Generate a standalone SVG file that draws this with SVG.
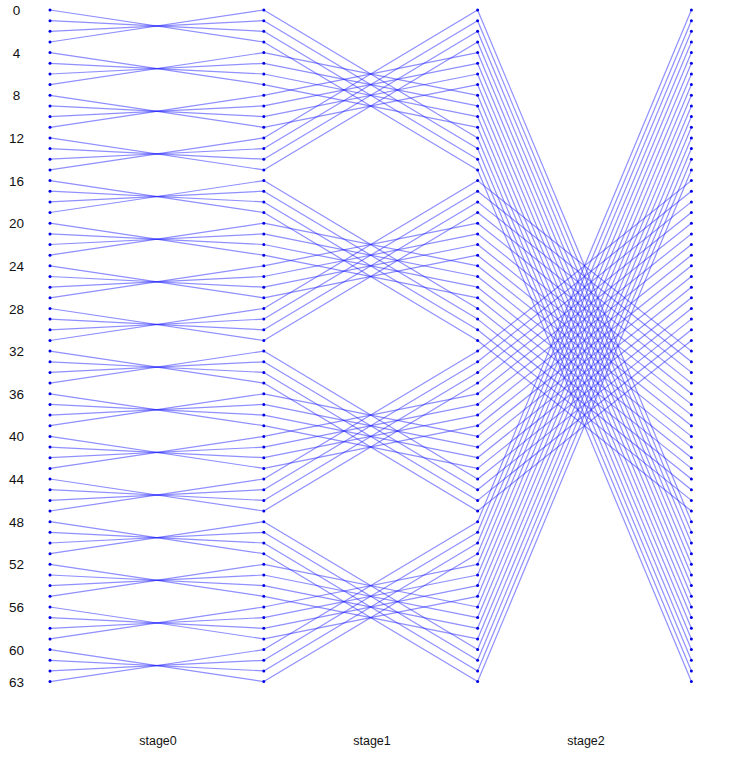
<svg xmlns="http://www.w3.org/2000/svg" width="732" height="758" viewBox="0 0 732 758">
<style>
.bg{fill:#ffffff}
.cn line{stroke:#2020ff;stroke-opacity:0.5;stroke-width:1.2;fill:none}
.nd circle{fill:#0000e6}
.lab{font-family:"Liberation Sans",Arial,sans-serif;font-size:13.5px;fill:#111111;text-anchor:middle}
.stg{font-family:"Liberation Sans",Arial,sans-serif;font-size:12.5px;fill:#111111;text-anchor:middle}
</style>
<rect class="bg" x="0" y="0" width="732" height="758"/>
<g id="connectors" class="cn">
<g id="stage0-links">
<line x1="50" y1="10" x2="263.8" y2="42"/><line x1="50" y1="20.7" x2="263.8" y2="31.3"/><line x1="50" y1="31.3" x2="263.8" y2="20.7"/><line x1="50" y1="42" x2="263.8" y2="10"/>
<line x1="50" y1="52.6" x2="263.8" y2="84.6"/><line x1="50" y1="63.3" x2="263.8" y2="74"/><line x1="50" y1="74" x2="263.8" y2="63.3"/><line x1="50" y1="84.6" x2="263.8" y2="52.6"/>
<line x1="50" y1="95.3" x2="263.8" y2="127.3"/><line x1="50" y1="105.9" x2="263.8" y2="116.6"/><line x1="50" y1="116.6" x2="263.8" y2="105.9"/><line x1="50" y1="127.3" x2="263.8" y2="95.3"/>
<line x1="50" y1="137.9" x2="263.8" y2="169.9"/><line x1="50" y1="148.6" x2="263.8" y2="159.2"/><line x1="50" y1="159.2" x2="263.8" y2="148.6"/><line x1="50" y1="169.9" x2="263.8" y2="137.9"/>
<line x1="50" y1="180.6" x2="263.8" y2="212.5"/><line x1="50" y1="191.2" x2="263.8" y2="201.9"/><line x1="50" y1="201.9" x2="263.8" y2="191.2"/><line x1="50" y1="212.5" x2="263.8" y2="180.6"/>
<line x1="50" y1="223.2" x2="263.8" y2="255.2"/><line x1="50" y1="233.9" x2="263.8" y2="244.5"/><line x1="50" y1="244.5" x2="263.8" y2="233.9"/><line x1="50" y1="255.2" x2="263.8" y2="223.2"/>
<line x1="50" y1="265.8" x2="263.8" y2="297.8"/><line x1="50" y1="276.5" x2="263.8" y2="287.2"/><line x1="50" y1="287.2" x2="263.8" y2="276.5"/><line x1="50" y1="297.8" x2="263.8" y2="265.8"/>
<line x1="50" y1="308.5" x2="263.8" y2="340.5"/><line x1="50" y1="319.1" x2="263.8" y2="329.8"/><line x1="50" y1="329.8" x2="263.8" y2="319.1"/><line x1="50" y1="340.5" x2="263.8" y2="308.5"/>
<line x1="50" y1="351.1" x2="263.8" y2="383.1"/><line x1="50" y1="361.8" x2="263.8" y2="372.4"/><line x1="50" y1="372.4" x2="263.8" y2="361.8"/><line x1="50" y1="383.1" x2="263.8" y2="351.1"/>
<line x1="50" y1="393.8" x2="263.8" y2="425.7"/><line x1="50" y1="404.4" x2="263.8" y2="415.1"/><line x1="50" y1="415.1" x2="263.8" y2="404.4"/><line x1="50" y1="425.7" x2="263.8" y2="393.8"/>
<line x1="50" y1="436.4" x2="263.8" y2="468.4"/><line x1="50" y1="447.1" x2="263.8" y2="457.7"/><line x1="50" y1="457.7" x2="263.8" y2="447.1"/><line x1="50" y1="468.4" x2="263.8" y2="436.4"/>
<line x1="50" y1="479" x2="263.8" y2="511"/><line x1="50" y1="489.7" x2="263.8" y2="500.4"/><line x1="50" y1="500.4" x2="263.8" y2="489.7"/><line x1="50" y1="511" x2="263.8" y2="479"/>
<line x1="50" y1="521.7" x2="263.8" y2="553.7"/><line x1="50" y1="532.3" x2="263.8" y2="543"/><line x1="50" y1="543" x2="263.8" y2="532.3"/><line x1="50" y1="553.7" x2="263.8" y2="521.7"/>
<line x1="50" y1="564.3" x2="263.8" y2="596.3"/><line x1="50" y1="575" x2="263.8" y2="585.6"/><line x1="50" y1="585.6" x2="263.8" y2="575"/><line x1="50" y1="596.3" x2="263.8" y2="564.3"/>
<line x1="50" y1="607" x2="263.8" y2="638.9"/><line x1="50" y1="617.6" x2="263.8" y2="628.3"/><line x1="50" y1="628.3" x2="263.8" y2="617.6"/><line x1="50" y1="638.9" x2="263.8" y2="607"/>
<line x1="50" y1="649.6" x2="263.8" y2="681.6"/><line x1="50" y1="660.3" x2="263.8" y2="670.9"/><line x1="50" y1="670.9" x2="263.8" y2="660.3"/><line x1="50" y1="681.6" x2="263.8" y2="649.6"/>
</g>
<g id="stage1-links">
<line x1="263.8" y1="10" x2="477.6" y2="137.9"/><line x1="263.8" y1="20.7" x2="477.6" y2="148.6"/><line x1="263.8" y1="31.3" x2="477.6" y2="159.2"/><line x1="263.8" y1="42" x2="477.6" y2="169.9"/>
<line x1="263.8" y1="52.6" x2="477.6" y2="95.3"/><line x1="263.8" y1="63.3" x2="477.6" y2="105.9"/><line x1="263.8" y1="74" x2="477.6" y2="116.6"/><line x1="263.8" y1="84.6" x2="477.6" y2="127.3"/>
<line x1="263.8" y1="95.3" x2="477.6" y2="52.6"/><line x1="263.8" y1="105.9" x2="477.6" y2="63.3"/><line x1="263.8" y1="116.6" x2="477.6" y2="74"/><line x1="263.8" y1="127.3" x2="477.6" y2="84.6"/>
<line x1="263.8" y1="137.9" x2="477.6" y2="10"/><line x1="263.8" y1="148.6" x2="477.6" y2="20.7"/><line x1="263.8" y1="159.2" x2="477.6" y2="31.3"/><line x1="263.8" y1="169.9" x2="477.6" y2="42"/>
<line x1="263.8" y1="180.6" x2="477.6" y2="308.5"/><line x1="263.8" y1="191.2" x2="477.6" y2="319.1"/><line x1="263.8" y1="201.9" x2="477.6" y2="329.8"/><line x1="263.8" y1="212.5" x2="477.6" y2="340.5"/>
<line x1="263.8" y1="223.2" x2="477.6" y2="265.8"/><line x1="263.8" y1="233.9" x2="477.6" y2="276.5"/><line x1="263.8" y1="244.5" x2="477.6" y2="287.2"/><line x1="263.8" y1="255.2" x2="477.6" y2="297.8"/>
<line x1="263.8" y1="265.8" x2="477.6" y2="223.2"/><line x1="263.8" y1="276.5" x2="477.6" y2="233.9"/><line x1="263.8" y1="287.2" x2="477.6" y2="244.5"/><line x1="263.8" y1="297.8" x2="477.6" y2="255.2"/>
<line x1="263.8" y1="308.5" x2="477.6" y2="180.6"/><line x1="263.8" y1="319.1" x2="477.6" y2="191.2"/><line x1="263.8" y1="329.8" x2="477.6" y2="201.9"/><line x1="263.8" y1="340.5" x2="477.6" y2="212.5"/>
<line x1="263.8" y1="351.1" x2="477.6" y2="479"/><line x1="263.8" y1="361.8" x2="477.6" y2="489.7"/><line x1="263.8" y1="372.4" x2="477.6" y2="500.4"/><line x1="263.8" y1="383.1" x2="477.6" y2="511"/>
<line x1="263.8" y1="393.8" x2="477.6" y2="436.4"/><line x1="263.8" y1="404.4" x2="477.6" y2="447.1"/><line x1="263.8" y1="415.1" x2="477.6" y2="457.7"/><line x1="263.8" y1="425.7" x2="477.6" y2="468.4"/>
<line x1="263.8" y1="436.4" x2="477.6" y2="393.8"/><line x1="263.8" y1="447.1" x2="477.6" y2="404.4"/><line x1="263.8" y1="457.7" x2="477.6" y2="415.1"/><line x1="263.8" y1="468.4" x2="477.6" y2="425.7"/>
<line x1="263.8" y1="479" x2="477.6" y2="351.1"/><line x1="263.8" y1="489.7" x2="477.6" y2="361.8"/><line x1="263.8" y1="500.4" x2="477.6" y2="372.4"/><line x1="263.8" y1="511" x2="477.6" y2="383.1"/>
<line x1="263.8" y1="521.7" x2="477.6" y2="649.6"/><line x1="263.8" y1="532.3" x2="477.6" y2="660.3"/><line x1="263.8" y1="543" x2="477.6" y2="670.9"/><line x1="263.8" y1="553.7" x2="477.6" y2="681.6"/>
<line x1="263.8" y1="564.3" x2="477.6" y2="607"/><line x1="263.8" y1="575" x2="477.6" y2="617.6"/><line x1="263.8" y1="585.6" x2="477.6" y2="628.3"/><line x1="263.8" y1="596.3" x2="477.6" y2="638.9"/>
<line x1="263.8" y1="607" x2="477.6" y2="564.3"/><line x1="263.8" y1="617.6" x2="477.6" y2="575"/><line x1="263.8" y1="628.3" x2="477.6" y2="585.6"/><line x1="263.8" y1="638.9" x2="477.6" y2="596.3"/>
<line x1="263.8" y1="649.6" x2="477.6" y2="521.7"/><line x1="263.8" y1="660.3" x2="477.6" y2="532.3"/><line x1="263.8" y1="670.9" x2="477.6" y2="543"/><line x1="263.8" y1="681.6" x2="477.6" y2="553.7"/>
</g>
<g id="stage2-links">
<line x1="477.6" y1="10" x2="691.4" y2="521.7"/><line x1="477.6" y1="20.7" x2="691.4" y2="532.3"/><line x1="477.6" y1="31.3" x2="691.4" y2="543"/><line x1="477.6" y1="42" x2="691.4" y2="553.7"/>
<line x1="477.6" y1="52.6" x2="691.4" y2="564.3"/><line x1="477.6" y1="63.3" x2="691.4" y2="575"/><line x1="477.6" y1="74" x2="691.4" y2="585.6"/><line x1="477.6" y1="84.6" x2="691.4" y2="596.3"/>
<line x1="477.6" y1="95.3" x2="691.4" y2="607"/><line x1="477.6" y1="105.9" x2="691.4" y2="617.6"/><line x1="477.6" y1="116.6" x2="691.4" y2="628.3"/><line x1="477.6" y1="127.3" x2="691.4" y2="638.9"/>
<line x1="477.6" y1="137.9" x2="691.4" y2="649.6"/><line x1="477.6" y1="148.6" x2="691.4" y2="660.3"/><line x1="477.6" y1="159.2" x2="691.4" y2="670.9"/><line x1="477.6" y1="169.9" x2="691.4" y2="681.6"/>
<line x1="477.6" y1="180.6" x2="691.4" y2="351.1"/><line x1="477.6" y1="191.2" x2="691.4" y2="361.8"/><line x1="477.6" y1="201.9" x2="691.4" y2="372.4"/><line x1="477.6" y1="212.5" x2="691.4" y2="383.1"/>
<line x1="477.6" y1="223.2" x2="691.4" y2="393.8"/><line x1="477.6" y1="233.9" x2="691.4" y2="404.4"/><line x1="477.6" y1="244.5" x2="691.4" y2="415.1"/><line x1="477.6" y1="255.2" x2="691.4" y2="425.7"/>
<line x1="477.6" y1="265.8" x2="691.4" y2="436.4"/><line x1="477.6" y1="276.5" x2="691.4" y2="447.1"/><line x1="477.6" y1="287.2" x2="691.4" y2="457.7"/><line x1="477.6" y1="297.8" x2="691.4" y2="468.4"/>
<line x1="477.6" y1="308.5" x2="691.4" y2="479"/><line x1="477.6" y1="319.1" x2="691.4" y2="489.7"/><line x1="477.6" y1="329.8" x2="691.4" y2="500.4"/><line x1="477.6" y1="340.5" x2="691.4" y2="511"/>
<line x1="477.6" y1="351.1" x2="691.4" y2="180.6"/><line x1="477.6" y1="361.8" x2="691.4" y2="191.2"/><line x1="477.6" y1="372.4" x2="691.4" y2="201.9"/><line x1="477.6" y1="383.1" x2="691.4" y2="212.5"/>
<line x1="477.6" y1="393.8" x2="691.4" y2="223.2"/><line x1="477.6" y1="404.4" x2="691.4" y2="233.9"/><line x1="477.6" y1="415.1" x2="691.4" y2="244.5"/><line x1="477.6" y1="425.7" x2="691.4" y2="255.2"/>
<line x1="477.6" y1="436.4" x2="691.4" y2="265.8"/><line x1="477.6" y1="447.1" x2="691.4" y2="276.5"/><line x1="477.6" y1="457.7" x2="691.4" y2="287.2"/><line x1="477.6" y1="468.4" x2="691.4" y2="297.8"/>
<line x1="477.6" y1="479" x2="691.4" y2="308.5"/><line x1="477.6" y1="489.7" x2="691.4" y2="319.1"/><line x1="477.6" y1="500.4" x2="691.4" y2="329.8"/><line x1="477.6" y1="511" x2="691.4" y2="340.5"/>
<line x1="477.6" y1="521.7" x2="691.4" y2="10"/><line x1="477.6" y1="532.3" x2="691.4" y2="20.7"/><line x1="477.6" y1="543" x2="691.4" y2="31.3"/><line x1="477.6" y1="553.7" x2="691.4" y2="42"/>
<line x1="477.6" y1="564.3" x2="691.4" y2="52.6"/><line x1="477.6" y1="575" x2="691.4" y2="63.3"/><line x1="477.6" y1="585.6" x2="691.4" y2="74"/><line x1="477.6" y1="596.3" x2="691.4" y2="84.6"/>
<line x1="477.6" y1="607" x2="691.4" y2="95.3"/><line x1="477.6" y1="617.6" x2="691.4" y2="105.9"/><line x1="477.6" y1="628.3" x2="691.4" y2="116.6"/><line x1="477.6" y1="638.9" x2="691.4" y2="127.3"/>
<line x1="477.6" y1="649.6" x2="691.4" y2="137.9"/><line x1="477.6" y1="660.3" x2="691.4" y2="148.6"/><line x1="477.6" y1="670.9" x2="691.4" y2="159.2"/><line x1="477.6" y1="681.6" x2="691.4" y2="169.9"/>
</g>
</g>
<g id="nodes" class="nd">
<g id="col0">
<g id="n0-0"><circle cx="50" cy="10" r="1.5"/></g><g id="n0-1"><circle cx="50" cy="20.7" r="1.5"/></g><g id="n0-2"><circle cx="50" cy="31.3" r="1.5"/></g><g id="n0-3"><circle cx="50" cy="42" r="1.5"/></g>
<g id="n0-4"><circle cx="50" cy="52.6" r="1.5"/></g><g id="n0-5"><circle cx="50" cy="63.3" r="1.5"/></g><g id="n0-6"><circle cx="50" cy="74" r="1.5"/></g><g id="n0-7"><circle cx="50" cy="84.6" r="1.5"/></g>
<g id="n0-8"><circle cx="50" cy="95.3" r="1.5"/></g><g id="n0-9"><circle cx="50" cy="105.9" r="1.5"/></g><g id="n0-10"><circle cx="50" cy="116.6" r="1.5"/></g><g id="n0-11"><circle cx="50" cy="127.3" r="1.5"/></g>
<g id="n0-12"><circle cx="50" cy="137.9" r="1.5"/></g><g id="n0-13"><circle cx="50" cy="148.6" r="1.5"/></g><g id="n0-14"><circle cx="50" cy="159.2" r="1.5"/></g><g id="n0-15"><circle cx="50" cy="169.9" r="1.5"/></g>
<g id="n0-16"><circle cx="50" cy="180.6" r="1.5"/></g><g id="n0-17"><circle cx="50" cy="191.2" r="1.5"/></g><g id="n0-18"><circle cx="50" cy="201.9" r="1.5"/></g><g id="n0-19"><circle cx="50" cy="212.5" r="1.5"/></g>
<g id="n0-20"><circle cx="50" cy="223.2" r="1.5"/></g><g id="n0-21"><circle cx="50" cy="233.9" r="1.5"/></g><g id="n0-22"><circle cx="50" cy="244.5" r="1.5"/></g><g id="n0-23"><circle cx="50" cy="255.2" r="1.5"/></g>
<g id="n0-24"><circle cx="50" cy="265.8" r="1.5"/></g><g id="n0-25"><circle cx="50" cy="276.5" r="1.5"/></g><g id="n0-26"><circle cx="50" cy="287.2" r="1.5"/></g><g id="n0-27"><circle cx="50" cy="297.8" r="1.5"/></g>
<g id="n0-28"><circle cx="50" cy="308.5" r="1.5"/></g><g id="n0-29"><circle cx="50" cy="319.1" r="1.5"/></g><g id="n0-30"><circle cx="50" cy="329.8" r="1.5"/></g><g id="n0-31"><circle cx="50" cy="340.5" r="1.5"/></g>
<g id="n0-32"><circle cx="50" cy="351.1" r="1.5"/></g><g id="n0-33"><circle cx="50" cy="361.8" r="1.5"/></g><g id="n0-34"><circle cx="50" cy="372.4" r="1.5"/></g><g id="n0-35"><circle cx="50" cy="383.1" r="1.5"/></g>
<g id="n0-36"><circle cx="50" cy="393.8" r="1.5"/></g><g id="n0-37"><circle cx="50" cy="404.4" r="1.5"/></g><g id="n0-38"><circle cx="50" cy="415.1" r="1.5"/></g><g id="n0-39"><circle cx="50" cy="425.7" r="1.5"/></g>
<g id="n0-40"><circle cx="50" cy="436.4" r="1.5"/></g><g id="n0-41"><circle cx="50" cy="447.1" r="1.5"/></g><g id="n0-42"><circle cx="50" cy="457.7" r="1.5"/></g><g id="n0-43"><circle cx="50" cy="468.4" r="1.5"/></g>
<g id="n0-44"><circle cx="50" cy="479" r="1.5"/></g><g id="n0-45"><circle cx="50" cy="489.7" r="1.5"/></g><g id="n0-46"><circle cx="50" cy="500.4" r="1.5"/></g><g id="n0-47"><circle cx="50" cy="511" r="1.5"/></g>
<g id="n0-48"><circle cx="50" cy="521.7" r="1.5"/></g><g id="n0-49"><circle cx="50" cy="532.3" r="1.5"/></g><g id="n0-50"><circle cx="50" cy="543" r="1.5"/></g><g id="n0-51"><circle cx="50" cy="553.7" r="1.5"/></g>
<g id="n0-52"><circle cx="50" cy="564.3" r="1.5"/></g><g id="n0-53"><circle cx="50" cy="575" r="1.5"/></g><g id="n0-54"><circle cx="50" cy="585.6" r="1.5"/></g><g id="n0-55"><circle cx="50" cy="596.3" r="1.5"/></g>
<g id="n0-56"><circle cx="50" cy="607" r="1.5"/></g><g id="n0-57"><circle cx="50" cy="617.6" r="1.5"/></g><g id="n0-58"><circle cx="50" cy="628.3" r="1.5"/></g><g id="n0-59"><circle cx="50" cy="638.9" r="1.5"/></g>
<g id="n0-60"><circle cx="50" cy="649.6" r="1.5"/></g><g id="n0-61"><circle cx="50" cy="660.3" r="1.5"/></g><g id="n0-62"><circle cx="50" cy="670.9" r="1.5"/></g><g id="n0-63"><circle cx="50" cy="681.6" r="1.5"/></g>
</g>
<g id="col1">
<g id="n1-0"><circle cx="263.8" cy="10" r="1.5"/></g><g id="n1-1"><circle cx="263.8" cy="20.7" r="1.5"/></g><g id="n1-2"><circle cx="263.8" cy="31.3" r="1.5"/></g><g id="n1-3"><circle cx="263.8" cy="42" r="1.5"/></g>
<g id="n1-4"><circle cx="263.8" cy="52.6" r="1.5"/></g><g id="n1-5"><circle cx="263.8" cy="63.3" r="1.5"/></g><g id="n1-6"><circle cx="263.8" cy="74" r="1.5"/></g><g id="n1-7"><circle cx="263.8" cy="84.6" r="1.5"/></g>
<g id="n1-8"><circle cx="263.8" cy="95.3" r="1.5"/></g><g id="n1-9"><circle cx="263.8" cy="105.9" r="1.5"/></g><g id="n1-10"><circle cx="263.8" cy="116.6" r="1.5"/></g><g id="n1-11"><circle cx="263.8" cy="127.3" r="1.5"/></g>
<g id="n1-12"><circle cx="263.8" cy="137.9" r="1.5"/></g><g id="n1-13"><circle cx="263.8" cy="148.6" r="1.5"/></g><g id="n1-14"><circle cx="263.8" cy="159.2" r="1.5"/></g><g id="n1-15"><circle cx="263.8" cy="169.9" r="1.5"/></g>
<g id="n1-16"><circle cx="263.8" cy="180.6" r="1.5"/></g><g id="n1-17"><circle cx="263.8" cy="191.2" r="1.5"/></g><g id="n1-18"><circle cx="263.8" cy="201.9" r="1.5"/></g><g id="n1-19"><circle cx="263.8" cy="212.5" r="1.5"/></g>
<g id="n1-20"><circle cx="263.8" cy="223.2" r="1.5"/></g><g id="n1-21"><circle cx="263.8" cy="233.9" r="1.5"/></g><g id="n1-22"><circle cx="263.8" cy="244.5" r="1.5"/></g><g id="n1-23"><circle cx="263.8" cy="255.2" r="1.5"/></g>
<g id="n1-24"><circle cx="263.8" cy="265.8" r="1.5"/></g><g id="n1-25"><circle cx="263.8" cy="276.5" r="1.5"/></g><g id="n1-26"><circle cx="263.8" cy="287.2" r="1.5"/></g><g id="n1-27"><circle cx="263.8" cy="297.8" r="1.5"/></g>
<g id="n1-28"><circle cx="263.8" cy="308.5" r="1.5"/></g><g id="n1-29"><circle cx="263.8" cy="319.1" r="1.5"/></g><g id="n1-30"><circle cx="263.8" cy="329.8" r="1.5"/></g><g id="n1-31"><circle cx="263.8" cy="340.5" r="1.5"/></g>
<g id="n1-32"><circle cx="263.8" cy="351.1" r="1.5"/></g><g id="n1-33"><circle cx="263.8" cy="361.8" r="1.5"/></g><g id="n1-34"><circle cx="263.8" cy="372.4" r="1.5"/></g><g id="n1-35"><circle cx="263.8" cy="383.1" r="1.5"/></g>
<g id="n1-36"><circle cx="263.8" cy="393.8" r="1.5"/></g><g id="n1-37"><circle cx="263.8" cy="404.4" r="1.5"/></g><g id="n1-38"><circle cx="263.8" cy="415.1" r="1.5"/></g><g id="n1-39"><circle cx="263.8" cy="425.7" r="1.5"/></g>
<g id="n1-40"><circle cx="263.8" cy="436.4" r="1.5"/></g><g id="n1-41"><circle cx="263.8" cy="447.1" r="1.5"/></g><g id="n1-42"><circle cx="263.8" cy="457.7" r="1.5"/></g><g id="n1-43"><circle cx="263.8" cy="468.4" r="1.5"/></g>
<g id="n1-44"><circle cx="263.8" cy="479" r="1.5"/></g><g id="n1-45"><circle cx="263.8" cy="489.7" r="1.5"/></g><g id="n1-46"><circle cx="263.8" cy="500.4" r="1.5"/></g><g id="n1-47"><circle cx="263.8" cy="511" r="1.5"/></g>
<g id="n1-48"><circle cx="263.8" cy="521.7" r="1.5"/></g><g id="n1-49"><circle cx="263.8" cy="532.3" r="1.5"/></g><g id="n1-50"><circle cx="263.8" cy="543" r="1.5"/></g><g id="n1-51"><circle cx="263.8" cy="553.7" r="1.5"/></g>
<g id="n1-52"><circle cx="263.8" cy="564.3" r="1.5"/></g><g id="n1-53"><circle cx="263.8" cy="575" r="1.5"/></g><g id="n1-54"><circle cx="263.8" cy="585.6" r="1.5"/></g><g id="n1-55"><circle cx="263.8" cy="596.3" r="1.5"/></g>
<g id="n1-56"><circle cx="263.8" cy="607" r="1.5"/></g><g id="n1-57"><circle cx="263.8" cy="617.6" r="1.5"/></g><g id="n1-58"><circle cx="263.8" cy="628.3" r="1.5"/></g><g id="n1-59"><circle cx="263.8" cy="638.9" r="1.5"/></g>
<g id="n1-60"><circle cx="263.8" cy="649.6" r="1.5"/></g><g id="n1-61"><circle cx="263.8" cy="660.3" r="1.5"/></g><g id="n1-62"><circle cx="263.8" cy="670.9" r="1.5"/></g><g id="n1-63"><circle cx="263.8" cy="681.6" r="1.5"/></g>
</g>
<g id="col2">
<g id="n2-0"><circle cx="477.6" cy="10" r="1.5"/></g><g id="n2-1"><circle cx="477.6" cy="20.7" r="1.5"/></g><g id="n2-2"><circle cx="477.6" cy="31.3" r="1.5"/></g><g id="n2-3"><circle cx="477.6" cy="42" r="1.5"/></g>
<g id="n2-4"><circle cx="477.6" cy="52.6" r="1.5"/></g><g id="n2-5"><circle cx="477.6" cy="63.3" r="1.5"/></g><g id="n2-6"><circle cx="477.6" cy="74" r="1.5"/></g><g id="n2-7"><circle cx="477.6" cy="84.6" r="1.5"/></g>
<g id="n2-8"><circle cx="477.6" cy="95.3" r="1.5"/></g><g id="n2-9"><circle cx="477.6" cy="105.9" r="1.5"/></g><g id="n2-10"><circle cx="477.6" cy="116.6" r="1.5"/></g><g id="n2-11"><circle cx="477.6" cy="127.3" r="1.5"/></g>
<g id="n2-12"><circle cx="477.6" cy="137.9" r="1.5"/></g><g id="n2-13"><circle cx="477.6" cy="148.6" r="1.5"/></g><g id="n2-14"><circle cx="477.6" cy="159.2" r="1.5"/></g><g id="n2-15"><circle cx="477.6" cy="169.9" r="1.5"/></g>
<g id="n2-16"><circle cx="477.6" cy="180.6" r="1.5"/></g><g id="n2-17"><circle cx="477.6" cy="191.2" r="1.5"/></g><g id="n2-18"><circle cx="477.6" cy="201.9" r="1.5"/></g><g id="n2-19"><circle cx="477.6" cy="212.5" r="1.5"/></g>
<g id="n2-20"><circle cx="477.6" cy="223.2" r="1.5"/></g><g id="n2-21"><circle cx="477.6" cy="233.9" r="1.5"/></g><g id="n2-22"><circle cx="477.6" cy="244.5" r="1.5"/></g><g id="n2-23"><circle cx="477.6" cy="255.2" r="1.5"/></g>
<g id="n2-24"><circle cx="477.6" cy="265.8" r="1.5"/></g><g id="n2-25"><circle cx="477.6" cy="276.5" r="1.5"/></g><g id="n2-26"><circle cx="477.6" cy="287.2" r="1.5"/></g><g id="n2-27"><circle cx="477.6" cy="297.8" r="1.5"/></g>
<g id="n2-28"><circle cx="477.6" cy="308.5" r="1.5"/></g><g id="n2-29"><circle cx="477.6" cy="319.1" r="1.5"/></g><g id="n2-30"><circle cx="477.6" cy="329.8" r="1.5"/></g><g id="n2-31"><circle cx="477.6" cy="340.5" r="1.5"/></g>
<g id="n2-32"><circle cx="477.6" cy="351.1" r="1.5"/></g><g id="n2-33"><circle cx="477.6" cy="361.8" r="1.5"/></g><g id="n2-34"><circle cx="477.6" cy="372.4" r="1.5"/></g><g id="n2-35"><circle cx="477.6" cy="383.1" r="1.5"/></g>
<g id="n2-36"><circle cx="477.6" cy="393.8" r="1.5"/></g><g id="n2-37"><circle cx="477.6" cy="404.4" r="1.5"/></g><g id="n2-38"><circle cx="477.6" cy="415.1" r="1.5"/></g><g id="n2-39"><circle cx="477.6" cy="425.7" r="1.5"/></g>
<g id="n2-40"><circle cx="477.6" cy="436.4" r="1.5"/></g><g id="n2-41"><circle cx="477.6" cy="447.1" r="1.5"/></g><g id="n2-42"><circle cx="477.6" cy="457.7" r="1.5"/></g><g id="n2-43"><circle cx="477.6" cy="468.4" r="1.5"/></g>
<g id="n2-44"><circle cx="477.6" cy="479" r="1.5"/></g><g id="n2-45"><circle cx="477.6" cy="489.7" r="1.5"/></g><g id="n2-46"><circle cx="477.6" cy="500.4" r="1.5"/></g><g id="n2-47"><circle cx="477.6" cy="511" r="1.5"/></g>
<g id="n2-48"><circle cx="477.6" cy="521.7" r="1.5"/></g><g id="n2-49"><circle cx="477.6" cy="532.3" r="1.5"/></g><g id="n2-50"><circle cx="477.6" cy="543" r="1.5"/></g><g id="n2-51"><circle cx="477.6" cy="553.7" r="1.5"/></g>
<g id="n2-52"><circle cx="477.6" cy="564.3" r="1.5"/></g><g id="n2-53"><circle cx="477.6" cy="575" r="1.5"/></g><g id="n2-54"><circle cx="477.6" cy="585.6" r="1.5"/></g><g id="n2-55"><circle cx="477.6" cy="596.3" r="1.5"/></g>
<g id="n2-56"><circle cx="477.6" cy="607" r="1.5"/></g><g id="n2-57"><circle cx="477.6" cy="617.6" r="1.5"/></g><g id="n2-58"><circle cx="477.6" cy="628.3" r="1.5"/></g><g id="n2-59"><circle cx="477.6" cy="638.9" r="1.5"/></g>
<g id="n2-60"><circle cx="477.6" cy="649.6" r="1.5"/></g><g id="n2-61"><circle cx="477.6" cy="660.3" r="1.5"/></g><g id="n2-62"><circle cx="477.6" cy="670.9" r="1.5"/></g><g id="n2-63"><circle cx="477.6" cy="681.6" r="1.5"/></g>
</g>
<g id="col3">
<g id="n3-0"><circle cx="691.4" cy="10" r="1.5"/></g><g id="n3-1"><circle cx="691.4" cy="20.7" r="1.5"/></g><g id="n3-2"><circle cx="691.4" cy="31.3" r="1.5"/></g><g id="n3-3"><circle cx="691.4" cy="42" r="1.5"/></g>
<g id="n3-4"><circle cx="691.4" cy="52.6" r="1.5"/></g><g id="n3-5"><circle cx="691.4" cy="63.3" r="1.5"/></g><g id="n3-6"><circle cx="691.4" cy="74" r="1.5"/></g><g id="n3-7"><circle cx="691.4" cy="84.6" r="1.5"/></g>
<g id="n3-8"><circle cx="691.4" cy="95.3" r="1.5"/></g><g id="n3-9"><circle cx="691.4" cy="105.9" r="1.5"/></g><g id="n3-10"><circle cx="691.4" cy="116.6" r="1.5"/></g><g id="n3-11"><circle cx="691.4" cy="127.3" r="1.5"/></g>
<g id="n3-12"><circle cx="691.4" cy="137.9" r="1.5"/></g><g id="n3-13"><circle cx="691.4" cy="148.6" r="1.5"/></g><g id="n3-14"><circle cx="691.4" cy="159.2" r="1.5"/></g><g id="n3-15"><circle cx="691.4" cy="169.9" r="1.5"/></g>
<g id="n3-16"><circle cx="691.4" cy="180.6" r="1.5"/></g><g id="n3-17"><circle cx="691.4" cy="191.2" r="1.5"/></g><g id="n3-18"><circle cx="691.4" cy="201.9" r="1.5"/></g><g id="n3-19"><circle cx="691.4" cy="212.5" r="1.5"/></g>
<g id="n3-20"><circle cx="691.4" cy="223.2" r="1.5"/></g><g id="n3-21"><circle cx="691.4" cy="233.9" r="1.5"/></g><g id="n3-22"><circle cx="691.4" cy="244.5" r="1.5"/></g><g id="n3-23"><circle cx="691.4" cy="255.2" r="1.5"/></g>
<g id="n3-24"><circle cx="691.4" cy="265.8" r="1.5"/></g><g id="n3-25"><circle cx="691.4" cy="276.5" r="1.5"/></g><g id="n3-26"><circle cx="691.4" cy="287.2" r="1.5"/></g><g id="n3-27"><circle cx="691.4" cy="297.8" r="1.5"/></g>
<g id="n3-28"><circle cx="691.4" cy="308.5" r="1.5"/></g><g id="n3-29"><circle cx="691.4" cy="319.1" r="1.5"/></g><g id="n3-30"><circle cx="691.4" cy="329.8" r="1.5"/></g><g id="n3-31"><circle cx="691.4" cy="340.5" r="1.5"/></g>
<g id="n3-32"><circle cx="691.4" cy="351.1" r="1.5"/></g><g id="n3-33"><circle cx="691.4" cy="361.8" r="1.5"/></g><g id="n3-34"><circle cx="691.4" cy="372.4" r="1.5"/></g><g id="n3-35"><circle cx="691.4" cy="383.1" r="1.5"/></g>
<g id="n3-36"><circle cx="691.4" cy="393.8" r="1.5"/></g><g id="n3-37"><circle cx="691.4" cy="404.4" r="1.5"/></g><g id="n3-38"><circle cx="691.4" cy="415.1" r="1.5"/></g><g id="n3-39"><circle cx="691.4" cy="425.7" r="1.5"/></g>
<g id="n3-40"><circle cx="691.4" cy="436.4" r="1.5"/></g><g id="n3-41"><circle cx="691.4" cy="447.1" r="1.5"/></g><g id="n3-42"><circle cx="691.4" cy="457.7" r="1.5"/></g><g id="n3-43"><circle cx="691.4" cy="468.4" r="1.5"/></g>
<g id="n3-44"><circle cx="691.4" cy="479" r="1.5"/></g><g id="n3-45"><circle cx="691.4" cy="489.7" r="1.5"/></g><g id="n3-46"><circle cx="691.4" cy="500.4" r="1.5"/></g><g id="n3-47"><circle cx="691.4" cy="511" r="1.5"/></g>
<g id="n3-48"><circle cx="691.4" cy="521.7" r="1.5"/></g><g id="n3-49"><circle cx="691.4" cy="532.3" r="1.5"/></g><g id="n3-50"><circle cx="691.4" cy="543" r="1.5"/></g><g id="n3-51"><circle cx="691.4" cy="553.7" r="1.5"/></g>
<g id="n3-52"><circle cx="691.4" cy="564.3" r="1.5"/></g><g id="n3-53"><circle cx="691.4" cy="575" r="1.5"/></g><g id="n3-54"><circle cx="691.4" cy="585.6" r="1.5"/></g><g id="n3-55"><circle cx="691.4" cy="596.3" r="1.5"/></g>
<g id="n3-56"><circle cx="691.4" cy="607" r="1.5"/></g><g id="n3-57"><circle cx="691.4" cy="617.6" r="1.5"/></g><g id="n3-58"><circle cx="691.4" cy="628.3" r="1.5"/></g><g id="n3-59"><circle cx="691.4" cy="638.9" r="1.5"/></g>
<g id="n3-60"><circle cx="691.4" cy="649.6" r="1.5"/></g><g id="n3-61"><circle cx="691.4" cy="660.3" r="1.5"/></g><g id="n3-62"><circle cx="691.4" cy="670.9" r="1.5"/></g><g id="n3-63"><circle cx="691.4" cy="681.6" r="1.5"/></g>
</g>
</g>
<g id="row-labels">
<text class="lab" x="16.5" y="15">0</text>
<text class="lab" x="16.5" y="57.6">4</text>
<text class="lab" x="16.5" y="100.3">8</text>
<text class="lab" x="16.5" y="142.9">12</text>
<text class="lab" x="16.5" y="185.6">16</text>
<text class="lab" x="16.5" y="228.2">20</text>
<text class="lab" x="16.5" y="270.8">24</text>
<text class="lab" x="16.5" y="313.5">28</text>
<text class="lab" x="16.5" y="356.1">32</text>
<text class="lab" x="16.5" y="398.8">36</text>
<text class="lab" x="16.5" y="441.4">40</text>
<text class="lab" x="16.5" y="484">44</text>
<text class="lab" x="16.5" y="526.7">48</text>
<text class="lab" x="16.5" y="569.3">52</text>
<text class="lab" x="16.5" y="612">56</text>
<text class="lab" x="16.5" y="654.6">60</text>
<text class="lab" x="16.5" y="686.6">63</text>
</g>
<g id="stage-labels">
<text class="stg" x="158" y="745">stage0</text>
<text class="stg" x="372" y="745">stage1</text>
<text class="stg" x="586" y="745">stage2</text>
</g>
</svg>
